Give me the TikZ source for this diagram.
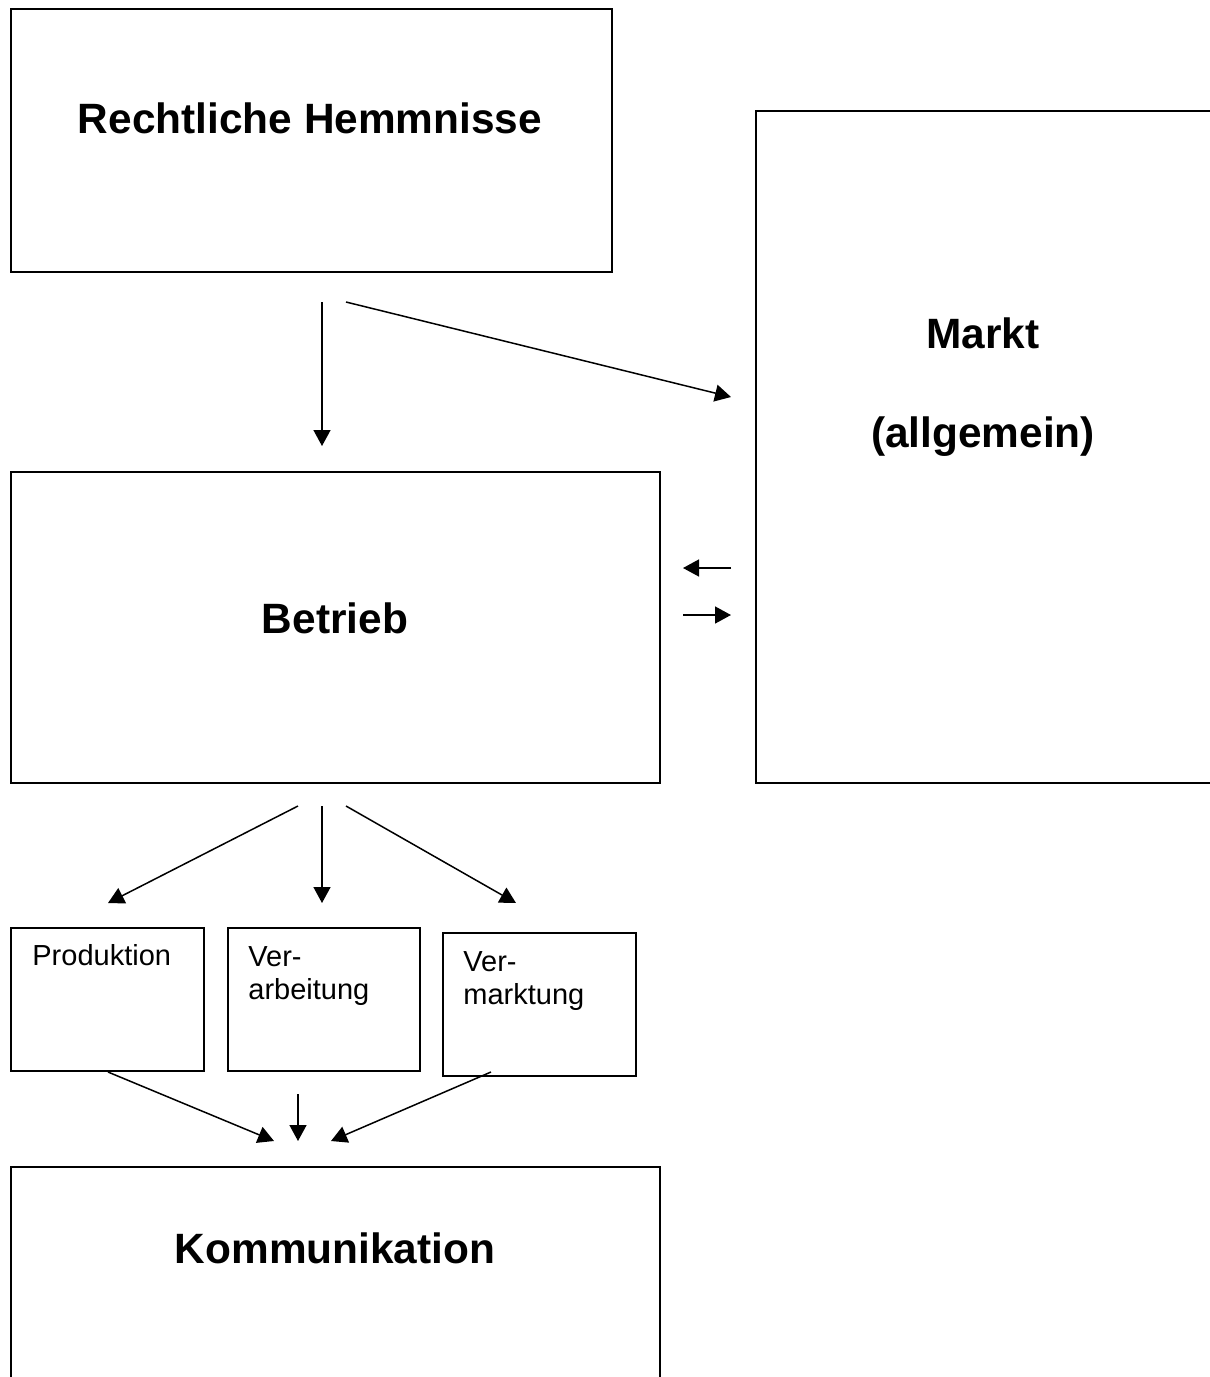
\documentclass[tikz,border=0pt]{standalone}
\usepackage{fontspec}
\setmainfont{Liberation Sans}
\usepackage{tikz}
\usetikzlibrary{arrows.meta, positioning}

\begin{document}
\begin{tikzpicture}[
  x=0.5pt, y=-0.5pt,
  box/.style={draw, line width=1pt, inner sep=0pt, anchor=north west},
  big/.style={font=\fontsize{21.2}{25}\selectfont\bfseries, inner sep=0pt},
  small/.style={font=\fontsize{14.5}{16.5}\selectfont, align=left, inner sep=0pt, anchor=north west},
  >={Triangle[length=8pt, width=8.5pt]}
]
  \useasboundingbox (0,0) rectangle (1210,1377);
  \clip (0,0) rectangle (1210,1377);

  % Boxes
  \node[box, minimum width=300.5pt, minimum height=131.5pt] (recht) at (10,8) {};
  \node[box, minimum width=230pt, minimum height=336pt] (markt) at (755,110) {};
  \node[box, minimum width=324.5pt, minimum height=155.5pt] (betrieb) at (10,471) {};
  \node[box, minimum width=96.5pt, minimum height=71.5pt] (prod) at (10,927) {};
  \node[box, minimum width=96pt, minimum height=71.5pt] (verarb) at (227,927) {};
  \node[box, minimum width=96.5pt, minimum height=71.5pt] (vermark) at (442,932) {};
  \node[box, minimum width=324.5pt, minimum height=120pt] (komm) at (10,1166) {};

  % Labels
  \node[big] (rechttxt) at (310,118) {Rechtliche Hemmnisse};
  \node[big] (markttxt) at (983,333) {Markt};
  \node[big] (allgtxt) at (983,437) {(allgemein)};
  \node[big] (betriebtxt) at (335,618) {Betrieb};
  \node[big] (kommtxt) at (335,1248) {Kommunikation};
  \node[small] (prodtxt) at (32,944) {Produktion};
  \node[small] (verarbtxt) at (248,946) {Ver-\\arbeitung};
  \node[small] (vermarktxt) at (463,951) {Ver-\\marktung};

  % Arrow ends
  \coordinate (a1) at (322,302);  \coordinate (b1) at (322,446);
  \coordinate (a2) at (346,302);  \coordinate (b2) at (731,397);
  \coordinate (a3) at (731,568);  \coordinate (b3) at (683,568);
  \coordinate (a4) at (683,615);  \coordinate (b4) at (731,615);
  \coordinate (a5) at (298,806);  \coordinate (b5) at (108,903);
  \coordinate (a6) at (322,806);  \coordinate (b6) at (322,903);
  \coordinate (a7) at (346,806);  \coordinate (b7) at (516,903);
  \coordinate (a8) at (108,1072); \coordinate (b8) at (274,1141);
  \coordinate (a9) at (298,1094); \coordinate (b9) at (298,1141);
  \coordinate (a10) at (491,1072); \coordinate (b10) at (331,1141);

  % Arrows
  \foreach \i in {1,...,10}
    \draw[->, line width=0.75pt] (a\i) -- (b\i);
\end{tikzpicture}
\end{document}
